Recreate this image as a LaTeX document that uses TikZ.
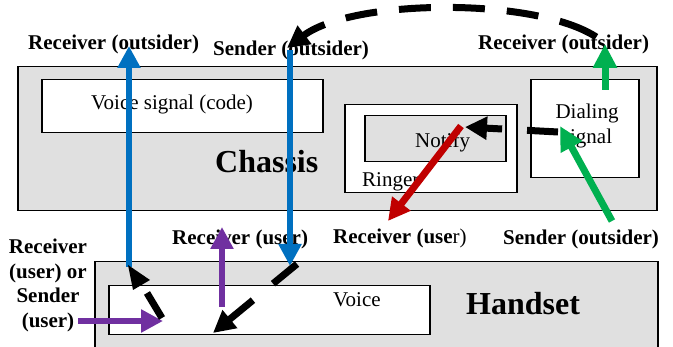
\documentclass[tikz,border=0pt]{standalone}
\usepackage{fontspec}
\setmainfont{Liberation Serif}
\usetikzlibrary{arrows.meta}
\definecolor{boxgray}{RGB}{224,224,224}
\definecolor{myblue}{RGB}{0,112,192}
\definecolor{mygreen}{RGB}{0,176,80}
\definecolor{myred}{RGB}{192,0,0}
\definecolor{mypurple}{RGB}{112,48,160}
\begin{document}
\begin{tikzpicture}[x=1pt,y=-1pt,
  panel/.style={draw=black, line width=1.5pt, fill=boxgray, inner sep=0pt, anchor=north west},
  wbox/.style={draw=black, line width=1.5pt, fill=white, inner sep=0pt, anchor=north west},
  gbox/.style={draw=black, line width=1.5pt, fill=boxgray, inner sep=0pt, anchor=north west},
  lbl/.style={font=\fontsize{21}{24.5}\selectfont\bfseries, inner sep=0pt, anchor=base west},
  txt/.style={font=\fontsize{21}{24.5}\selectfont, inner sep=0pt, anchor=base west},
  big/.style={font=\fontsize{32}{36}\selectfont\bfseries, inner sep=0pt, anchor=base west},
  tipx/.style={-{Triangle[length=22pt,width=22pt]}},
  bluearrow/.style={tipx, line width=6.5pt, draw=myblue},
  greenarrow/.style={-{Triangle[length=24pt,width=23pt]}, line width=7pt, draw=mygreen},
  redarrow/.style={tipx, line width=7pt, draw=myred},
  purplearrow/.style={tipx, line width=6.5pt, draw=mypurple},
  blackarrow/.style={tipx, line width=7pt, draw=black},
  blackback/.style={{Triangle[length=22pt,width=22pt]}-, line width=7pt, draw=black},
]
\useasboundingbox (0,0) rectangle (673,347);
% boxes
\node[panel, minimum width=639pt, minimum height=144pt] (chassis) at (17,66) {};
\node[wbox, minimum width=281pt, minimum height=53pt] (vsig) at (41,79) {};
\node[wbox, minimum width=172pt, minimum height=88pt] (ringer) at (344,104) {};
\node[gbox, minimum width=141pt, minimum height=46pt] (notify) at (364,115) {};
\node[wbox, minimum width=108pt, minimum height=98pt] (dial) at (530,79) {};
\node[panel, minimum width=563pt, minimum height=99pt] (handset) at (94,261) {};
\node[wbox, minimum width=321pt, minimum height=49pt] (voice) at (108,285) {};
% texts in boxes
\node[txt] (tvsig) at (91,110) {Voice signal (code)};
\node[big] (tchassis) at (215,173) {Chassis};
\node[txt] (tnotify) at (415,148) {Notify};
\node[txt] (tringer) at (362,187) {Ringer};
\node[font=\fontsize{21}{25}\selectfont, inner sep=0pt, align=center, anchor=north] (tdial) at (587,103.5) {Dialing\\signal};
\node[txt] (tvoice) at (333,307) {Voice};
\node[big] (thandset) at (466,315) {Handset};
% labels
\node[lbl] (rout1) at (28,50) {Receiver (outsider)};
\node[lbl] (sout1) at (213,56) {Sender (outsider)};
\node[lbl] (rout2) at (478,50) {Receiver (outsider)};
\node[font=\fontsize{21}{24.5}\selectfont\bfseries, inner sep=0pt, align=center, anchor=north] (rsuser) at (48,239) {Receiver\\(user) or\\Sender\\(user)};
\node[lbl] (ruser1) at (172,245) {Receiver (user)};
\node[lbl] (ruser2) at (333,244) {Receiver (use\textmd{r)}};
\node[lbl] (sout2) at (503,245) {Sender (outsider)};
% coordinates
\coordinate (b1s) at (129,267); \coordinate (b1e) at (129,46);
\coordinate (b2s) at (290,50);  \coordinate (b2e) at (290,266);
\coordinate (g1s) at (605,90);  \coordinate (g1e) at (605,44);
\coordinate (g2s) at (612,221); \coordinate (g2e) at (560,126);
\coordinate (r1s) at (461,126); \coordinate (r1e) at (388,221);
\coordinate (p1s) at (222,307); \coordinate (p1e) at (222,227);
\coordinate (p2s) at (78,321);  \coordinate (p2e) at (163,321);
\coordinate (ks) at (603,42);   \coordinate (ke) at (287,48);
\coordinate (ns) at (558,132);  \coordinate (ne) at (465,127);
\coordinate (hs) at (297,264);  \coordinate (he) at (213,333);
\coordinate (t1) at (128,265);  \coordinate (t2) at (133,290); \coordinate (t3) at (150,280);
\coordinate (d1) at (147,293);  \coordinate (d2) at (162,318);
% arrows
\draw[bluearrow] (b1s) -- (b1e);
\draw[bluearrow] (b2s) -- (b2e);
\draw[greenarrow] (g1s) -- (g1e);
\draw[greenarrow] (g2s) -- (g2e);
\draw[redarrow] (r1s) -- (r1e);
\draw[purplearrow] (p1s) -- (p1e);
\draw[purplearrow] (p2s) -- (p2e);
\draw[blackback, dash pattern=on 24pt off 22pt on 32pt off 22pt on 32pt off 22pt on 32pt off 22pt on 32pt off 22pt on 40pt off 22pt] (ke) .. controls (355,-3) and (550,-3) .. (ks);
\draw[blackarrow, dash pattern=on 31pt off 25pt] (ns) -- (ne);
\draw[blackarrow, dash pattern=on 31pt off 26pt] (hs) -- (he);
\fill[black] (t1) -- (t2) -- (t3) -- cycle;
\draw[line width=7pt] (d1) -- (d2);
\end{tikzpicture}
\end{document}
